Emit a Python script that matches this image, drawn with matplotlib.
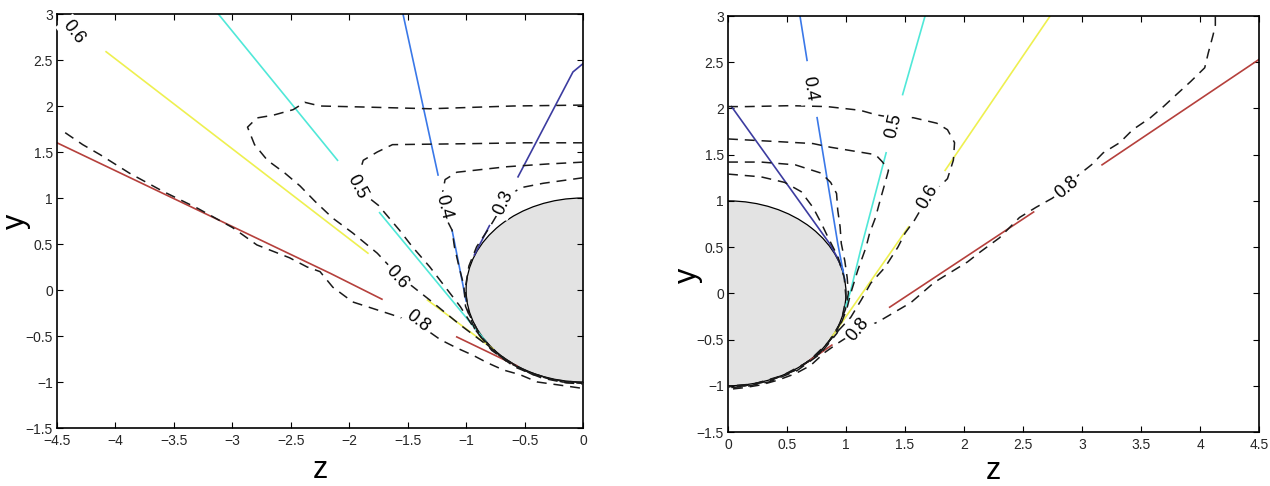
import numpy as np
import matplotlib.pyplot as plt
from matplotlib.patches import Circle

plt.rcParams['font.family'] = ['Liberation Sans', 'DejaVu Sans']

# level colours of the solid contours
level_colors = {'0.3': '#3c3ca0', '0.4': '#3a78e8', '0.5': '#50e8d8',
                '0.6': '#eef050', '0.8': '#b5403c'}

left_xticks = [-4.5, -4, -3.5, -3, -2.5, -2, -1.5, -1, -0.5, 0]
right_xticks = [0, 0.5, 1, 1.5, 2, 2.5, 3, 3.5, 4, 4.5]
yticks = [-1.5, -1, -0.5, 0, 0.5, 1, 1.5, 2, 2.5, 3]

# ---- left panel (z < 0), solid contours (segments split at the labels)
left_solid = {
    '0.3': [[(-0.556, 1.23), (-0.086, 2.37), (-0.01, 2.45), (0.0, 2.46)],
            [(-0.80, 0.70), (-0.93, 0.38)]],
    '0.4': [[(-1.54, 3.0), (-1.24, 1.25)], [(-1.12, 0.65), (-1.0, -0.12)]],
    '0.5': [[(-3.12, 3.0), (-2.10, 1.41)], [(-1.74, 0.84), (-0.83, -0.56)]],
    '0.6': [[(-4.08, 2.59), (-1.84, 0.40)], [(-1.33, -0.11), (-0.77, -0.64)]],
    '0.8': [[(-4.5, 1.60), (-2.16, 0.18), (-1.72, -0.10)],
            [(-1.08, -0.51), (-0.565, -0.825)]],
}

# left panel, dashed contours
left_dash_03 = [(0.0, 1.22), (-0.34, 1.16), (-0.54, 1.11), (-0.65, 1.00), (-0.80, 0.68),
                (-0.91, 0.47), (-0.976, 0.261), (-1.01, 0.0), (-0.976, -0.261),
                (-0.875, -0.505), (-0.714, -0.714), (-0.505, -0.875), (-0.261, -0.976),
                (0.0, -1.01)]
left_dash_04 = [(0.0, 1.39), (-0.3, 1.37), (-0.65, 1.34), (-1.08, 1.28), (-1.18, 1.20),
                (-1.21, 1.00), (-1.18, 0.80), (-1.12, 0.65), (-1.10, 0.47), (-1.06, 0.25),
                (-1.02, 0.05), (-1.005, -0.177), (-0.924, -0.431), (-0.781, -0.656),
                (-0.585, -0.836), (-0.349, -0.958), (-0.142, -1.01), (0.0, -1.02)]
left_dash_05 = [(0.0, 1.60), (-0.5, 1.60), (-1.0, 1.59), (-1.63, 1.58), (-1.76, 1.50),
                (-1.88, 1.41), (-1.93, 1.20), (-1.88, 1.05), (-1.75, 0.92), (-1.57, 0.65),
                (-1.46, 0.47), (-1.31, 0.25), (-1.05, -0.18), (-0.94, -0.40), (-0.88, -0.50),
                (-0.831, -0.582), (-0.652, -0.778), (-0.429, -0.920), (-0.176, -1.0),
                (0.0, -1.015)]
left_dash_06 = [(0.0, 2.01), (-0.6, 2.00), (-1.31, 1.97), (-1.91, 1.99), (-2.25, 2.00),
                (-2.38, 2.04), (-2.48, 1.96), (-2.65, 1.90), (-2.79, 1.87), (-2.87, 1.77),
                (-2.81, 1.58), (-2.70, 1.41), (-2.55, 1.27), (-2.42, 1.13), (-2.29, 0.96),
                (-2.14, 0.78), (-1.97, 0.62), (-1.76, 0.40), (-1.59, 0.17), (-1.45, 0.03),
                (-1.31, -0.11), (-1.05, -0.38), (-0.82, -0.60), (-0.774, -0.649),
                (-0.579, -0.827), (-0.345, -0.949), (-0.175, -0.995), (0.0, -1.01)]
left_dash_08 = [(-4.43, 1.71), (-4.28, 1.58), (-4.13, 1.47), (-3.88, 1.27), (-3.59, 1.07),
                (-3.30, 0.89), (-3.00, 0.68), (-2.79, 0.49), (-2.51, 0.35), (-2.36, 0.25),
                (-2.25, 0.20), (-2.14, 0.03), (-1.97, -0.13), (-1.80, -0.20), (-1.63, -0.27),
                (-1.41, -0.37), (-1.22, -0.54), (-1.08, -0.63), (-0.94, -0.71), (-0.82, -0.79),
                (-0.68, -0.87), (-0.54, -0.92), (-0.39, -1.0), (-0.22, -1.03), (0.0, -1.07)]

left_labels = [('0.3', -0.68, 0.95, 65), ('0.4', -1.19, 0.90, -76),
               ('0.5', -1.93, 1.12, -62), ('0.6', -1.59, 0.14, -48),
               ('0.8', -1.41, -0.34, -38), ('0.6', -4.36, 2.80, -52)]

# ---- right panel (z > 0)
right_solid = {
    '0.3': [[(0.03, 2.02), (0.86, 0.54), (0.93, 0.38), (0.975, 0.25)]],
    '0.4': [[(0.61, 3.0), (0.67, 2.52)], [(0.755, 1.90), (0.93, 0.54), (0.99, 0.14)]],
    '0.5': [[(1.67, 3.0), (1.48, 2.15)],
            [(1.34, 1.52), (1.13, 0.50), (1.04, 0.03), (0.99, -0.17)]],
    '0.6': [[(2.73, 3.0), (1.84, 1.33)], [(1.53, 0.72), (0.87, -0.49)]],
    '0.8': [[(4.5, 2.53), (3.17, 1.39)], [(2.59, 0.88), (1.37, -0.15)],
            [(0.88, -0.56), (0.62, -0.79)]],
}

right_dash_a = [(0.0, 2.02), (0.16, 2.02), (0.53, 2.03), (0.84, 2.02), (1.12, 1.98),
                (1.26, 1.93), (1.40, 1.90), (1.57, 1.90), (1.77, 1.84), (1.86, 1.77),
                (1.92, 1.63), (1.91, 1.44), (1.86, 1.24), (1.69, 1.03), (1.58, 0.79),
                (1.50, 0.65), (1.44, 0.50), (1.33, 0.28), (1.21, 0.11), (1.13, -0.07),
                (1.04, -0.26), (0.96, -0.37), (0.90, -0.45), (0.774, -0.649),
                (0.579, -0.827), (0.345, -0.949), (0.141, -1.0), (0.0, -1.01)]
right_dash_b = [(0.0, 1.67), (0.44, 1.64), (0.72, 1.62), (0.87, 1.58), (1.25, 1.50),
                (1.31, 1.42), (1.36, 1.33), (1.33, 1.19), (1.29, 1.01), (1.25, 0.82),
                (1.20, 0.65), (1.17, 0.50), (1.10, 0.25), (1.04, 0.0), (1.005, -0.177),
                (0.924, -0.431), (0.781, -0.656), (0.585, -0.836), (0.349, -0.958),
                (0.142, -1.01), (0.0, -1.02)]
right_dash_c = [(0.0, 1.42), (0.28, 1.42), (0.57, 1.39), (0.79, 1.30), (0.87, 1.20),
                (0.92, 1.08), (0.93, 0.90), (0.95, 0.72), (0.96, 0.54), (0.99, 0.35),
                (1.01, 0.17), (1.02, 0.0), (0.995, -0.175), (0.915, -0.427),
                (0.774, -0.649), (0.579, -0.827), (0.345, -0.949), (0.141, -1.0),
                (0.0, -1.01)]
right_dash_d = [(0.0, 1.29), (0.28, 1.26), (0.48, 1.20), (0.62, 1.10), (0.72, 0.93),
                (0.79, 0.76), (0.85, 0.60), (0.93, 0.40), (0.985, 0.17), (1.0, -0.05),
                (0.96, -0.31), (0.85, -0.53), (0.68, -0.74), (0.46, -0.89), (0.22, -0.98),
                (0.0, -1.005)]
right_dash_e = [(4.13, 3.0), (4.13, 2.90), (4.11, 2.79), (4.07, 2.60), (4.04, 2.44),
                (3.92, 2.29), (3.80, 2.15), (3.69, 2.02), (3.58, 1.90), (3.43, 1.77),
                (3.32, 1.63), (3.18, 1.52), (3.08, 1.39), (2.97, 1.28), (2.87, 1.15),
                (2.75, 1.03), (2.61, 0.93), (2.47, 0.82), (2.30, 0.60), (2.14, 0.45),
                (2.03, 0.34), (1.75, 0.12), (1.55, -0.10), (1.27, -0.31), (1.10, -0.40),
                (0.93, -0.54), (0.82, -0.64), (0.70, -0.78), (0.57, -0.87), (0.42, -0.94),
                (0.28, -0.99), (0.14, -1.02), (0.0, -1.04)]

right_labels = [('0.4', 0.695, 2.21, -81), ('0.5', 1.40, 1.81, 77),
                ('0.6', 1.69, 1.04, 60), ('0.8', 2.87, 1.14, 40),
                ('0.8', 1.10, -0.39, 50)]


def tick_text(v):
    return ('%g' % v).replace('-', '\u2212')


def draw_panel(ax, solid, dashed, labels, xticks):
    ax.add_patch(Circle((0, 0), 1.0, facecolor='#e3e3e3', edgecolor='black',
                        lw=0.9, zorder=1))
    for lev, segs in solid.items():
        for seg in segs:
            xs, ys = zip(*seg)
            ax.plot(xs, ys, color=level_colors[lev], lw=1.2, zorder=2)
    for c in dashed:
        xs, ys = zip(*c)
        ax.plot(xs, ys, color='#1a1a1a', lw=1.1, dashes=(6.5, 4.5), zorder=3)
    for txt, x, y, rot in labels:
        ax.text(x, y, txt, rotation=rot, ha='center', va='center', fontsize=13,
                rotation_mode='anchor', zorder=4,
                bbox=dict(boxstyle='square,pad=0.15', fc='white', ec='none'))
    ax.set_xlim(xticks[0], xticks[-1])
    ax.set_ylim(-1.5, 3)
    ax.set_xticks(xticks)
    ax.set_xticklabels([tick_text(v) for v in xticks])
    ax.set_yticks(yticks)
    ax.set_yticklabels([tick_text(v) for v in yticks])
    ax.tick_params(direction='in', top=True, right=True, length=4, width=0.8,
                   labelsize=10, labelcolor='#262626')
    ax.tick_params(axis='x', pad=4.5)
    ax.tick_params(axis='y', pad=3)
    for s in ax.spines.values():
        s.set_linewidth(1.2)


fig = plt.figure(figsize=(12.7, 4.86), dpi=100)
ax1 = fig.add_axes([57 / 1270, 58 / 486, 526 / 1270, 414 / 486])
ax2 = fig.add_axes([728 / 1270, 54 / 486, 531 / 1270, 416 / 486])

draw_panel(ax1, left_solid,
           [left_dash_03, left_dash_04, left_dash_05, left_dash_06, left_dash_08],
           left_labels, left_xticks)
draw_panel(ax2, right_solid,
           [right_dash_a, right_dash_b, right_dash_c, right_dash_d, right_dash_e],
           right_labels, right_xticks)

ax1.text(0.5, -0.121, 'z', transform=ax1.transAxes, ha='center', va='baseline', fontsize=22)
ax2.text(0.499, -0.113, 'z', transform=ax2.transAxes, ha='center', va='baseline', fontsize=22)
ax1.text(-0.1065, 0.50, 'y', transform=ax1.transAxes, ha='left', va='center',
         rotation=90, fontsize=22)
ax2.text(-0.075, 0.377, 'y', transform=ax2.transAxes, ha='center', va='center',
         rotation=90, fontsize=22)

fig.savefig('out.png', dpi=100)
